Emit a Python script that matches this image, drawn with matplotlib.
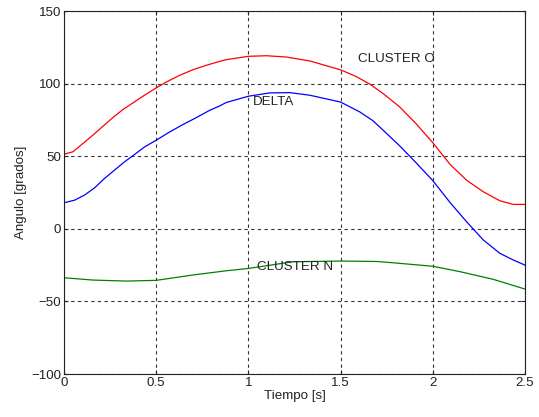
import matplotlib
matplotlib.use("Agg")
import matplotlib.pyplot as plt

# Data
t_red = [0.0, 0.048, 0.102, 0.156, 0.211, 0.265, 0.319, 0.374, 0.428, 0.5, 0.555, 0.627,
         0.7, 0.772, 0.844, 0.88, 1.0, 1.098, 1.206, 1.333, 1.5, 1.586, 1.659, 1.73,
         1.82, 1.91, 2.0, 2.093, 2.183, 2.274, 2.364, 2.437, 2.5]
cluster_o = [51.4, 53, 58.7, 64.4, 70.6, 76.6, 82.1, 86.7, 91.3, 97, 101.1, 105.7,
             109.6, 112.6, 115.3, 116.5, 118.8, 119.2, 118.3, 115.6, 109.5, 104.8, 99.6, 93.2,
             84, 72.3, 59.3, 44.5, 33.5, 25.5, 19.3, 16.8, 16.8]

t_blue = [0.0, 0.057, 0.111, 0.166, 0.22, 0.274, 0.328, 0.383, 0.437, 0.5, 0.573, 0.645,
          0.718, 0.79, 0.844, 0.88, 1.0, 1.116, 1.224, 1.333, 1.5, 1.604, 1.676, 1.73,
          1.82, 1.91, 2.0, 2.093, 2.183, 2.274, 2.364, 2.437, 2.5]
delta = [17.9, 19.7, 23.2, 28.2, 34.7, 40.4, 46.1, 51.2, 56.4, 61, 66.7, 71.8,
         76.6, 81.6, 84.6, 87, 91.3, 93.6, 93.8, 92, 87.3, 80.5, 74.4, 68,
         57.2, 45.4, 33.2, 18.2, 4.9, -7.7, -16.9, -21.5, -25]

t_green = [0.0, 0.157, 0.338, 0.5, 0.7, 0.88, 1.0, 1.24, 1.5, 1.695, 1.785, 2.0, 2.147,
           2.328, 2.5]
cluster_n = [-33.7, -35.3, -36, -35.5, -31.8, -28.9, -27.3, -22.7, -22.2, -22.5, -23.4, -25.8,
             -29.5, -34.8, -41.5]

labels = ["CLUSTER O", "DELTA", "CLUSTER N"]
label_pos = [(1.593, 116.7), (1.023, 87), (1.045, -26.5)]

x_ticks = [0, 0.5, 1, 1.5, 2, 2.5]
x_tick_labels = ["0", "0.5", "1", "1.5", "2", "2.5"]
y_ticks = [-100, -50, 0, 50, 100, 150]

plt.rcParams['font.family'] = ['Liberation Sans', 'DejaVu Sans']
fs = 9.6

fig = plt.figure(figsize=(5.39, 4.17), dpi=100)
ax = fig.add_axes([0.1187, 0.1031, 0.974 - 0.1187, 0.9736 - 0.1031])

ax.plot(t_red, cluster_o, color='#ff0000', lw=0.9)
ax.plot(t_blue, delta, color='#0000ff', lw=0.9)
ax.plot(t_green, cluster_n, color='#008000', lw=0.9)

for lab, (x, y) in zip(labels, label_pos):
    ax.text(x, y, lab, fontsize=fs, ha='left', va='center', color='#222222')

ax.set_xlim(0, 2.5)
ax.set_ylim(-100, 150)
ax.set_xticks(x_ticks)
ax.set_xticklabels(x_tick_labels)
ax.set_yticks(y_ticks)
ax.tick_params(direction='in', labelsize=fs, length=3, width=0.8, top=True, right=True,
               pad=2, colors='#222222')
ax.grid(True, color='#333333', linestyle=(0, (3, 3)), linewidth=0.8)
for s in ax.spines.values():
    s.set_linewidth(0.8)
    s.set_color('#222222')

ax.set_xlabel('Tiempo [s]', fontsize=fs, labelpad=1, color='#222222')
ax.set_ylabel('Angulo [grados]', fontsize=fs, labelpad=3, color='#222222')

fig.savefig('out.png', dpi=100)
